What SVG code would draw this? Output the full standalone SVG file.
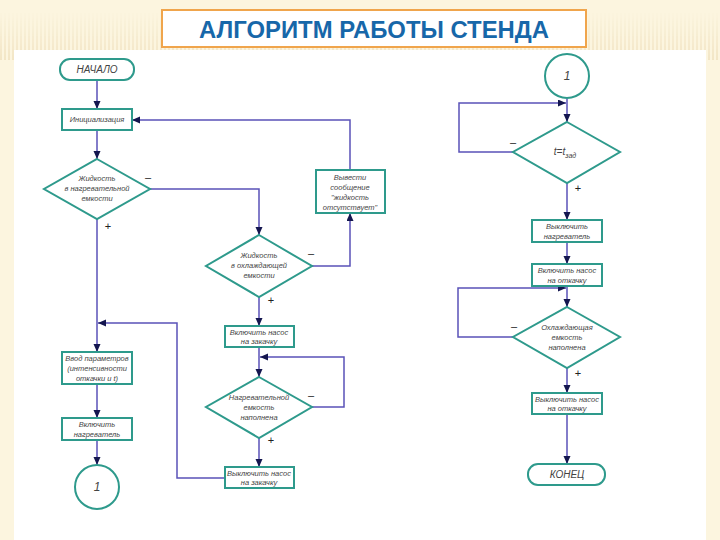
<svg xmlns="http://www.w3.org/2000/svg" width="720" height="540" viewBox="0 0 720 540">
<defs>
<pattern id="stripes" width="4" height="60" patternUnits="userSpaceOnUse">
<rect x="0" y="0" width="2" height="60" fill="#e6d3a6" opacity="0.45"/>
</pattern>
<linearGradient id="fade" x1="0" y1="0" x2="0" y2="1">
<stop offset="0.2" stop-color="#fff" stop-opacity="0"/>
<stop offset="1" stop-color="#fff" stop-opacity="1"/>
</linearGradient>
<mask id="m"><rect x="0" y="0" width="720" height="60" fill="url(#fade)"/></mask>
<marker id="arr" markerWidth="9" markerHeight="8" refX="8" refY="3.5" orient="auto" markerUnits="userSpaceOnUse">
<path d="M0,0 L8,3.5 L0,7 z" fill="#14164f"/>
</marker>
</defs>
<style>
.n{fill:#fff;stroke:#2e9a8c;stroke-width:2}
.c{fill:none;stroke:#5a52b8;stroke-width:1.5;marker-end:url(#arr)}
.t{font-family:"Liberation Sans",Arial,sans-serif;font-style:italic;font-size:7.5px;fill:#444;text-anchor:middle}
.big{font-size:10px}
.num{font-size:12px}
.s{font-family:"Liberation Sans",Arial,sans-serif;font-size:11px;fill:#222;text-anchor:middle}
</style>
<rect x="0" y="0" width="720" height="540" fill="#fcf5df"/>
<rect x="0" y="0" width="720" height="60" fill="url(#stripes)" mask="url(#m)"/>
<rect x="14" y="50" width="692" height="490" fill="#fff"/>
<g id="title">
<rect x="162" y="10" width="424" height="37" fill="#fff" stroke="#f0a54c" stroke-width="2"/>
<text x="374" y="38" font-family="Liberation Sans, Arial, sans-serif" font-weight="bold" font-size="23" fill="#1767a9" text-anchor="middle" textLength="350" lengthAdjust="spacingAndGlyphs">АЛГОРИТМ РАБОТЫ СТЕНДА</text>
</g>
<g id="connectors">
<path class="c" d="M97,80 V109"/>
<path class="c" d="M97,130 V159"/>
<path class="c" d="M150,189 H259 V235"/>
<path class="c" d="M312,266 H350 V213"/>
<path class="c" d="M350,170 V120 H132"/>
<path class="c" d="M259,297 V326"/>
<path class="c" d="M259,347 V377"/>
<path class="c" d="M312,407 H344 V357 H260"/>
<path class="c" d="M259,438 V467"/>
<path class="c" d="M225,478 H177 V323 H98"/>
<path class="c" d="M97,219 V352"/>
<path class="c" d="M97,384 V418"/>
<path class="c" d="M97,440 V465"/>
<path class="c" d="M567,99 V122"/>
<path class="c" d="M513,152 H459 V103 H566"/>
<path class="c" d="M567,183 V220"/>
<path class="c" d="M567,242 V264"/>
<path class="c" d="M567,286 V307"/>
<path class="c" d="M513,337 H458 V288 H566"/>
<path class="c" d="M567,368 V393"/>
<path class="c" d="M567,414 V464"/>
<text class="s" x="148" y="181">–</text>
<text class="s" x="108" y="230">+</text>
<text class="s" x="311" y="257">–</text>
<text class="s" x="271" y="304">+</text>
<text class="s" x="311" y="399">–</text>
<text class="s" x="271" y="444">+</text>
<text class="s" x="513" y="146">–</text>
<text class="s" x="578" y="192">+</text>
<text class="s" x="514" y="330">–</text>
<text class="s" x="578" y="377">+</text>
</g>
<g id="start">
<rect class="n" x="60" y="59" width="74" height="21" rx="10"/>
<text class="t big" x="97" y="73">НАЧАЛО</text>
</g>
<g id="init">
<rect class="n" x="62" y="109" width="70" height="21"/>
<text class="t" x="97" y="122">Инициализация</text>
</g>
<g id="d1">
<polygon class="n" points="97,159 150,189 97,219 44,189"/>
<text class="t" x="97" y="181">Жидкость</text>
<text class="t" x="97" y="191">в нагревательной</text>
<text class="t" x="97" y="201">емкости</text>
</g>
<g id="msg">
<rect class="n" x="316" y="170" width="69" height="43"/>
<text class="t" x="350" y="180">Вывести</text>
<text class="t" x="350" y="190">сообщение</text>
<text class="t" x="350" y="200">"жидкость</text>
<text class="t" x="350" y="210">отсутствует"</text>
</g>
<g id="d2">
<polygon class="n" points="259,235 312,266 259,297 206,266"/>
<text class="t" x="259" y="258">Жидкость</text>
<text class="t" x="259" y="268">в охлаждающей</text>
<text class="t" x="259" y="278">емкости</text>
</g>
<g id="pumpin_on">
<rect class="n" x="225" y="326" width="69" height="21"/>
<text class="t" x="259" y="335">Включить насос</text>
<text class="t" x="259" y="344">на закачку</text>
</g>
<g id="d3">
<polygon class="n" points="259,377 312,407 259,438 206,407"/>
<text class="t" x="259" y="400">Нагревательной</text>
<text class="t" x="259" y="410">емкость</text>
<text class="t" x="259" y="420">наполнена</text>
</g>
<g id="pumpin_off">
<rect class="n" x="225" y="467" width="69" height="21"/>
<text class="t" x="259" y="476">Выключить насос</text>
<text class="t" x="259" y="485">на закачку</text>
</g>
<g id="params">
<rect class="n" x="62" y="352" width="70" height="32"/>
<text class="t" x="97" y="361">Ввод параметров</text>
<text class="t" x="97" y="371">(интенсивности</text>
<text class="t" x="97" y="381">откачки и t)</text>
</g>
<g id="heat_on">
<rect class="n" x="62" y="418" width="70" height="22"/>
<text class="t" x="97" y="427">Включить</text>
<text class="t" x="97" y="437">нагреватель</text>
</g>
<g id="conn1a">
<circle class="n" cx="97" cy="487" r="22"/>
<text class="t num" x="97" y="491">1</text>
</g>
<g id="conn1b">
<circle class="n" cx="567" cy="76" r="22"/>
<text class="t num" x="567" y="80">1</text>
</g>
<g id="d4">
<polygon class="n" points="567,122 620,152 567,183 513,152"/>
<text class="t big" x="565" y="155">t=t<tspan style="font-size:7px" dy="3">зад</tspan></text>
</g>
<g id="heat_off">
<rect class="n" x="532" y="220" width="70" height="22"/>
<text class="t" x="567" y="229">Выключить</text>
<text class="t" x="567" y="239">нагреватель</text>
</g>
<g id="pumpout_on">
<rect class="n" x="532" y="264" width="70" height="22"/>
<text class="t" x="567" y="273">Включить насос</text>
<text class="t" x="567" y="283">на откачку</text>
</g>
<g id="d5">
<polygon class="n" points="567,307 620,337 567,368 513,337"/>
<text class="t" x="567" y="330">Охлаждающая</text>
<text class="t" x="567" y="340">емкость</text>
<text class="t" x="567" y="350">наполнена</text>
</g>
<g id="pumpout_off">
<rect class="n" x="532" y="393" width="70" height="21"/>
<text class="t" x="567" y="402">Выключить насос</text>
<text class="t" x="567" y="411">на откачку</text>
</g>
<g id="end">
<rect class="n" x="528" y="464" width="77" height="21" rx="10"/>
<text class="t big" x="567" y="478">КОНЕЦ</text>
</g>
</svg>
